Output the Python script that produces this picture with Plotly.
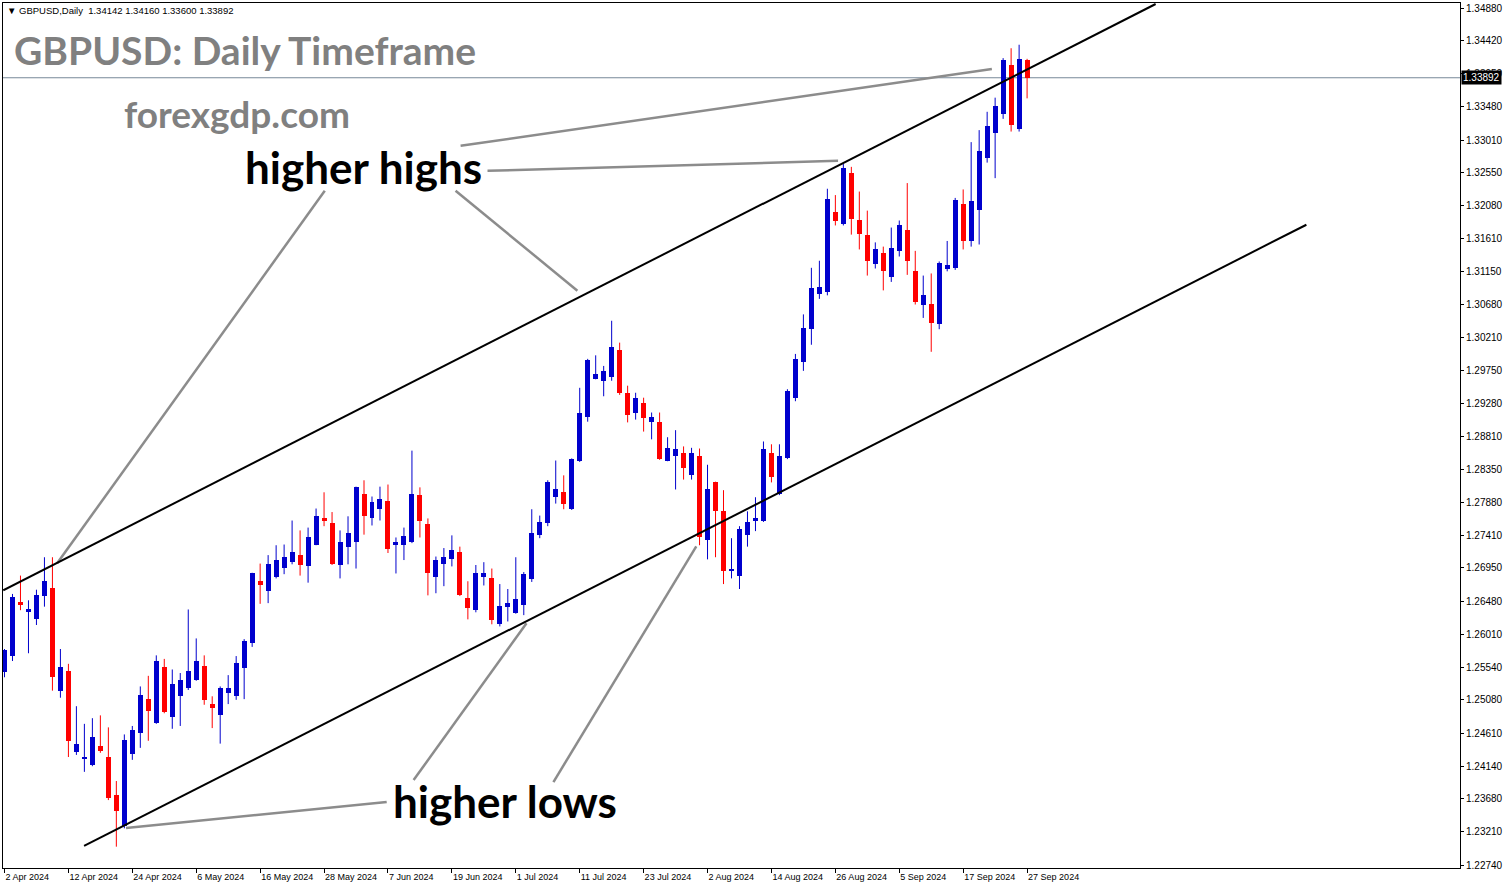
import plotly.graph_objects as go
import pandas as pd

# ---------------- data ----------------
dates = [d.strftime("%Y-%m-%d") for d in pd.bdate_range("2024-04-02", "2024-09-27")]

opens = [1.2548, 1.2570, 1.2646, 1.2632, 1.2622, 1.2655, 1.2667, 1.2521, 1.2549, 1.2434,
         1.2425, 1.2416, 1.2442, 1.2427, 1.2373, 1.2329, 1.2431, 1.2461, 1.2509, 1.2475,
         1.2554, 1.2484, 1.2514, 1.2525, 1.2536, 1.2556, 1.2502, 1.2487, 1.2517, 1.2514,
         1.2553, 1.2589, 1.2676, 1.2662, 1.2682, 1.2695, 1.2703, 1.2713, 1.2697, 1.2728,
         1.2765, 1.2758, 1.2699, 1.2725, 1.2731, 1.2800, 1.2765, 1.2779, 1.2789, 1.2727,
         1.2727, 1.2732, 1.2798, 1.2757, 1.2682, 1.2700, 1.2708, 1.2717, 1.2652, 1.2635,
         1.2682, 1.2680, 1.2615, 1.2639, 1.2631, 1.2642, 1.2679, 1.2741, 1.2758, 1.2795,
         1.2803, 1.2778, 1.2846, 1.2908, 1.2963, 1.2960, 1.2966, 1.3004, 1.2942, 1.2915,
         1.2928, 1.2901, 1.2902, 1.2847, 1.2854, 1.2857, 1.2827, 1.2853, 1.2735, 1.2816,
         1.2775, 1.2690, 1.2683, 1.2742, 1.2762, 1.2761, 1.2858, 1.2799, 1.2850, 1.2935,
         1.2986, 1.3033, 1.3083, 1.3086, 1.3199, 1.3182, 1.3255, 1.3188, 1.3167, 1.3126,
         1.3141, 1.3107, 1.3144, 1.3174, 1.3115, 1.3068, 1.3069, 1.3040, 1.3119, 1.3120,
         1.3211, 1.3158, 1.3202, 1.3276, 1.3311, 1.3338, 1.3407, 1.3317, 1.34142]
highs = [1.2580, 1.2658, 1.2684, 1.2649, 1.2664, 1.2710, 1.2710, 1.2580, 1.2559, 1.2499,
         1.2474, 1.2482, 1.2486, 1.2469, 1.2393, 1.2459, 1.2471, 1.2527, 1.2542, 1.2571,
         1.2566, 1.2551, 1.2546, 1.2636, 1.2595, 1.2571, 1.2513, 1.2527, 1.2543, 1.2570,
         1.2594, 1.2688, 1.2701, 1.2713, 1.2727, 1.2728, 1.2762, 1.2748, 1.2752, 1.2779,
         1.2802, 1.2774, 1.2748, 1.2768, 1.2810, 1.2819, 1.2796, 1.2810, 1.2813, 1.2738,
         1.2752, 1.2861, 1.2809, 1.2765, 1.2711, 1.2723, 1.2741, 1.2725, 1.2676, 1.2699,
         1.2703, 1.2694, 1.2672, 1.2665, 1.2710, 1.2689, 1.2778, 1.2769, 1.2819, 1.2847,
         1.2826, 1.2850, 1.2950, 1.2991, 1.2996, 1.2981, 1.3045, 1.3014, 1.2953, 1.2943,
         1.2936, 1.2915, 1.2915, 1.2880, 1.2890, 1.2867, 1.2865, 1.2864, 1.2841, 1.2817,
         1.2805, 1.2737, 1.2754, 1.2775, 1.2795, 1.2874, 1.2870, 1.2870, 1.2948, 1.2998,
         1.3054, 1.3120, 1.3130, 1.3232, 1.3223, 1.3267, 1.3263, 1.3228, 1.3201, 1.3156,
         1.3150, 1.3177, 1.3187, 1.3240, 1.3144, 1.3109, 1.3112, 1.3129, 1.3158, 1.3219,
         1.3231, 1.3298, 1.3315, 1.3341, 1.3361, 1.3417, 1.3431, 1.3436, 1.34160]
lows = [1.2540, 1.2563, 1.2635, 1.2574, 1.2614, 1.2640, 1.2521, 1.2511, 1.2427, 1.2430,
        1.2406, 1.2414, 1.2433, 1.2366, 1.2300, 1.2326, 1.2423, 1.2440, 1.2450, 1.2474,
        1.2489, 1.2467, 1.2471, 1.2522, 1.2535, 1.2501, 1.2468, 1.2446, 1.2502, 1.2508,
        1.2509, 1.2583, 1.2644, 1.2645, 1.2680, 1.2686, 1.2700, 1.2684, 1.2674, 1.2727,
        1.2754, 1.2699, 1.2680, 1.2700, 1.2694, 1.2742, 1.2755, 1.2762, 1.2716, 1.2687,
        1.2706, 1.2730, 1.2738, 1.2656, 1.2659, 1.2669, 1.2697, 1.2655, 1.2622, 1.2632,
        1.2670, 1.2615, 1.2612, 1.2619, 1.2630, 1.2628, 1.2675, 1.2737, 1.2754, 1.2786,
        1.2778, 1.2777, 1.2845, 1.2902, 1.2962, 1.2938, 1.2960, 1.2940, 1.2901, 1.2905,
        1.2888, 1.2877, 1.2848, 1.2846, 1.2806, 1.2820, 1.2820, 1.2727, 1.2707, 1.2710,
        1.2672, 1.2680, 1.2665, 1.2725, 1.2747, 1.2760, 1.2816, 1.2798, 1.2849, 1.2931,
        1.2974, 1.3011, 1.3076, 1.3081, 1.3180, 1.3180, 1.3167, 1.3146, 1.3109, 1.3119,
        1.3088, 1.3100, 1.3136, 1.3110, 1.3068, 1.3049, 1.3001, 1.3033, 1.3115, 1.3117,
        1.3146, 1.3150, 1.3153, 1.3269, 1.3247, 1.3331, 1.3313, 1.3313, 1.33600]
closes = [1.2579, 1.2653, 1.2642, 1.2637, 1.2656, 1.2677, 1.2541, 1.2554, 1.2449, 1.2445,
          1.2427, 1.2455, 1.2435, 1.2369, 1.2350, 1.2451, 1.2465, 1.2515, 1.2492, 1.2563,
          1.2491, 1.2530, 1.2536, 1.2549, 1.2563, 1.2508, 1.2497, 1.2525, 1.2525, 1.2560,
          1.2592, 1.2687, 1.2671, 1.2701, 1.2706, 1.2710, 1.2718, 1.2699, 1.2738, 1.2769,
          1.2761, 1.2700, 1.2732, 1.2744, 1.2809, 1.2769, 1.2788, 1.2792, 1.2721, 1.2731,
          1.2740, 1.2799, 1.2762, 1.2687, 1.2706, 1.2710, 1.2720, 1.2656, 1.2638, 1.2687,
          1.2687, 1.2621, 1.2641, 1.2645, 1.2651, 1.2686, 1.2744, 1.2760, 1.2816, 1.2807,
          1.2786, 1.2849, 1.2915, 1.2989, 1.2969, 1.2974, 1.3008, 1.2942, 1.2912, 1.2935,
          1.2907, 1.2908, 1.2849, 1.2865, 1.2863, 1.2836, 1.2857, 1.2738, 1.2806, 1.2776,
          1.2691, 1.2693, 1.2750, 1.2760, 1.2766, 1.2864, 1.2824, 1.2854, 1.2946, 1.2991,
          1.3035, 1.3092, 1.3093, 1.3218, 1.3187, 1.3262, 1.3189, 1.3168, 1.3129, 1.3147,
          1.3115, 1.3148, 1.3181, 1.3130, 1.3072, 1.3081, 1.3042, 1.3127, 1.3124, 1.3216,
          1.3158, 1.3214, 1.3286, 1.3321, 1.3349, 1.3414, 1.3322, 1.3416, 1.33892]

tick_labels = ["2 Apr 2024", "12 Apr 2024", "24 Apr 2024", "6 May 2024", "16 May 2024",
               "28 May 2024", "7 Jun 2024", "19 Jun 2024", "1 Jul 2024", "11 Jul 2024",
               "23 Jul 2024", "2 Aug 2024", "14 Aug 2024", "26 Aug 2024", "5 Sep 2024",
               "17 Sep 2024", "27 Sep 2024"]
tick_dates = dates[::8]

price_ticks = [1.34880, 1.34420, 1.33950, 1.33480, 1.33010, 1.32550, 1.32080, 1.31610,
               1.31150, 1.30680, 1.30210, 1.29750, 1.29280, 1.28810, 1.28350, 1.27880,
               1.27410, 1.26950, 1.26480, 1.26010, 1.25540, 1.25080, 1.24610, 1.24140,
               1.23680, 1.23210, 1.22740]

last_price = 1.33892
header = "\u25bc GBPUSD,Daily  1.34142 1.34160 1.33600 1.33892"

# channel lines (bar index, price)
upper_channel_x = [-0.16, 144.09]
upper_channel_y = [1.26632, 1.34937]
lower_channel_x = [9.96, 162.96]
lower_channel_y = [1.23010, 1.31810]

# pointer lines (x0 index, y0 price, x1 index, y1 price)
higher_highs_pointers = [(57.09, 1.32928, 123.59, 1.34017),
                         (60.46, 1.32574, 104.34, 1.32715),
                         (40.09, 1.32291, 6.59, 1.27014),
                         (56.46, 1.32291, 71.71, 1.30876)]
higher_lows_pointers = [(47.84, 1.23632, 15.21, 1.23265),
                        (51.21, 1.23944, 65.34, 1.26165),
                        (68.71, 1.23915, 86.59, 1.27254)]

# ---------------- style ----------------
UP = "#0000cd"
DOWN = "#ff0000"
W, H = 1505, 888
ML, MR, MT, MB = 2, 44, 2, 20
X_RANGE = [-0.1875, 182.1875]
Y_RANGE = [1.22698, 1.34951]

fig = go.Figure()

bases = [min(o, c) for o, c in zip(opens, closes)]
heights = [max(abs(c - o), 0.00014) for o, c in zip(opens, closes)]
colors = [UP if c >= o else DOWN for o, c in zip(opens, closes)]

# wicks
for color, cond in ((UP, True), (DOWN, False)):
    wx, wy = [], []
    for d, o, h, l, c in zip(dates, opens, highs, lows, closes):
        if (c >= o) == cond:
            wx += [d, d, None]
            wy += [l, h, None]
    fig.add_trace(go.Scatter(x=wx, y=wy, mode="lines",
                             line=dict(color=color, width=1),
                             hoverinfo="skip", showlegend=False))

# bodies
fig.add_trace(go.Bar(x=dates, y=heights, base=bases, width=0.625,
                     marker=dict(color=colors, line=dict(width=0)),
                     showlegend=False, hoverinfo="skip"))

shapes = []
shapes.append(dict(type="line", xref="paper", yref="y", x0=0, x1=1,
                   y0=last_price, y1=last_price,
                   line=dict(color="#778899", width=1), layer="below"))
for (x0, y0, x1, y1) in higher_highs_pointers + higher_lows_pointers:
    shapes.append(dict(type="line", xref="x", yref="y", x0=x0, y0=y0, x1=x1, y1=y1,
                       line=dict(color="#8c8c8c", width=2.5)))
for xs, ys in ((upper_channel_x, upper_channel_y), (lower_channel_x, lower_channel_y)):
    shapes.append(dict(type="line", xref="x", yref="y", x0=xs[0], y0=ys[0],
                       x1=xs[1], y1=ys[1], line=dict(color="black", width=2)))

pw = W - ML - MR
ph = H - MT - MB


def px(xp):
    return (xp - ML) / pw


def py(yp):
    return (H - MB - yp) / ph


annotations = [
    dict(text=header, xref="paper", yref="paper", x=px(4), y=py(10),
         xanchor="left", yanchor="middle", showarrow=False,
         font=dict(family="Liberation Sans", size=9.5, color="black")),
    dict(text="GBPUSD: Daily Timeframe", xref="paper", yref="paper", x=px(244), y=py(49),
         xanchor="center", yanchor="middle", showarrow=False,
         font=dict(family="Lato", size=39, color="#808080", weight="bold")),
    dict(text="forexgdp.com", xref="paper", yref="paper", x=px(236), y=py(113),
         xanchor="center", yanchor="middle", showarrow=False,
         font=dict(family="Lato", size=37, color="#808080", weight="bold")),
    dict(text="higher highs", xref="paper", yref="paper", x=px(363), y=py(166),
         xanchor="center", yanchor="middle", showarrow=False,
         font=dict(family="Lato", size=44, color="black", weight="bold")),
    dict(text="higher lows", xref="paper", yref="paper", x=px(505), y=py(801),
         xanchor="center", yanchor="middle", showarrow=False,
         font=dict(family="Lato", size=44, color="black", weight="bold")),
    dict(text=f"{last_price:.5f}", xref="paper", yref="y", x=1, y=last_price,
         xanchor="left", yanchor="middle", xshift=1, showarrow=False,
         bgcolor="black", borderpad=1,
         font=dict(family="Liberation Sans", size=10, color="white")),
]

fig.update_layout(
    width=W, height=H,
    margin=dict(l=ML, r=MR, t=MT, b=MB),
    paper_bgcolor="white", plot_bgcolor="white",
    showlegend=False, bargap=0,
    shapes=shapes, annotations=annotations,
    xaxis=dict(type="category", categoryorder="array", categoryarray=dates,
               range=X_RANGE, tickmode="array",
               tickvals=tick_dates, ticktext=tick_labels, tickangle=0,
               ticks="outside", ticklen=4, tickcolor="black",
               ticklabelposition="outside right",
               showline=True, linecolor="black", linewidth=1, mirror=True,
               showgrid=False, zeroline=False,
               tickfont=dict(family="Liberation Sans", size=9, color="black")),
    yaxis=dict(side="right", range=Y_RANGE, tickmode="array",
               tickvals=price_ticks, ticktext=[f"{v:.5f}" for v in price_ticks],
               ticks="outside", ticklen=3, tickcolor="black",
               showline=True, linecolor="black", linewidth=1, mirror=True,
               showgrid=False, zeroline=False,
               tickfont=dict(family="Liberation Sans", size=10, color="black")),
)

fig.write_html("out.html",
               config={"displayModeBar": False},
               post_script="document.body.style.margin='0px';"
                           "document.body.style.overflow='hidden';")
